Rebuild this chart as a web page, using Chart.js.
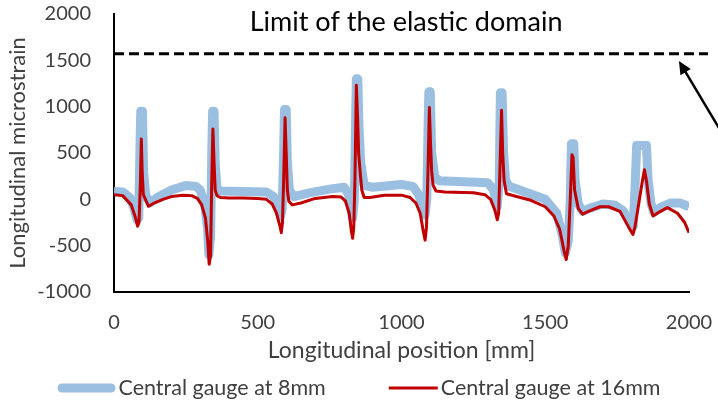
<!DOCTYPE html>
<html>
<head>
<meta charset="utf-8">
<script src="https://cdn.jsdelivr.net/npm/chart.js@4.4.1/dist/chart.umd.min.js"></script>
<style>
  html, body { margin: 0; padding: 0; background: #fff; }
  #wrap { width: 718px; height: 416px; position: relative; }
</style>
</head>
<body>
<div id="wrap"><canvas id="strainChart"></canvas></div>
<script>
const FONT = "Lato";

/* ===== DATA ===== */
// Central gauge at 8mm (position in mm, microstrain)
const pos8 = [0, 30, 55, 70, 80, 86, 90, 93, 99, 103, 110, 125, 150, 200, 250, 285, 300, 315, 325, 330,
  336, 340, 343, 348, 352, 358, 370, 450, 530, 555, 570, 580, 585, 590, 593, 599, 603, 610, 625, 680,
  750, 800, 815, 825, 830, 836, 840, 843, 848, 852, 858, 870, 900, 1000, 1040, 1060, 1075, 1082, 1088, 1092,
  1095, 1100, 1105, 1115, 1130, 1300, 1320, 1333, 1340, 1344, 1350, 1355, 1362, 1375, 1420, 1500, 1540, 1560, 1570, 1580,
  1587, 1591, 1599, 1604, 1615, 1630, 1660, 1700, 1740, 1770, 1795, 1806, 1812, 1818, 1852, 1858, 1868, 1878, 1900, 1935,
  1970, 2000];
const strain8 = [85, 80, 20, -100, -220, -200, 500, 950, 950, 300, 50, -40, 20, 100, 150, 140, 100, -50, -300, -600,
  -400, 500, 950, 950, 400, 120, 90, 85, 80, 30, -80, -180, -100, 500, 970, 970, 400, 100, 30, 70,
  110, 130, 60, -120, -200, 0, 800, 1300, 1300, 800, 400, 150, 130, 160, 140, 50, -100, -170, 0, 700,
  1160, 1160, 500, 250, 200, 180, 100, -80, 200, 1150, 1150, 500, 200, 140, 90, 0, -150, -400, -580, -450,
  0, 600, 600, 200, -50, -130, -90, -50, -60, -120, -250, -290, 100, 580, 580, 200, -50, -140, -90, -40,
  -40, -80];

// Central gauge at 16mm
const pos16 = [0, 30, 60, 75, 82, 87, 92, 95, 98, 102, 120, 140, 170, 200, 240, 270, 290, 305, 318, 326,
  331, 336, 340, 344, 348, 352, 358, 370, 400, 450, 500, 530, 550, 565, 578, 582, 586, 590, 595, 599,
  603, 608, 620, 650, 700, 760, 790, 805, 818, 826, 830, 834, 838, 843, 847, 851, 856, 862, 870, 890,
  940, 1000, 1030, 1050, 1065, 1076, 1082, 1087, 1092, 1097, 1101, 1105, 1110, 1120, 1150, 1250, 1290, 1310, 1325, 1333,
  1338, 1343, 1348, 1352, 1357, 1365, 1400, 1450, 1500, 1530, 1550, 1565, 1573, 1580, 1587, 1593, 1597, 1602, 1615, 1630,
  1650, 1690, 1720, 1760, 1790, 1805, 1812, 1825, 1838, 1845, 1852, 1862, 1875, 1895, 1925, 1960, 1985, 2000];
const strain16 = [50, 40, -60, -200, -290, -250, 200, 650, 300, 50, -75, -40, 0, 30, 45, 40, 10, -60, -200, -450,
  -700, -600, 200, 760, 400, 100, 40, 20, 15, 15, 10, 0, -50, -150, -300, -360, -250, 200, 880, 500,
  100, -20, -60, -40, 10, 30, 25, -20, -150, -350, -420, -300, 200, 1230, 900, 500, 300, 100, 20, 20,
  45, 45, 20, -40, -150, -350, -440, -300, 300, 990, 600, 300, 150, 90, 80, 70, 50, 0, -120, -220,
  -150, 400, 960, 500, 200, 60, 30, -10, -80, -180, -320, -550, -650, -500, 0, 480, 450, 100, -100, -160,
  -130, -80, -80, -130, -300, -380, -300, -50, 200, 320, 200, -50, -180, -140, -90, -150, -250, -360];

// Limit of the elastic domain (dashed line)
const limitPos = [0, 2066];
const limitStrain = [1570, 1570];

// Annotation arrow (tail -> tip), in data units
const arrowPos = [2104, 1965];
const arrowStrain = [771, 1494];

const xTicks = [0, 500, 1000, 1500, 2000];
const yTicks = [-1000, -500, 0, 500, 1000, 1500, 2000];

function toPoints(xs, ys) {
    return xs.map((x, i) => ({ x: x, y: ys[i] }));
}

/* ===== EXTRA DRAWING: label, arrow, legend ===== */
const extras = {
    id: "extras",
    afterDatasetsDraw(chart) {
        const ctx = chart.ctx;
        const xs = chart.scales.x, ys = chart.scales.y;

        // label above the dashed line
        ctx.save();
        ctx.font = "27px " + FONT;
        ctx.fillStyle = "#000";
        ctx.textAlign = "center";
        ctx.textBaseline = "middle";
        ctx.fillText("Limit of the elastic domain", xs.getPixelForValue(1016), ys.getPixelForValue(1910));

        // arrow
        const x1 = xs.getPixelForValue(arrowPos[0]), y1 = ys.getPixelForValue(arrowStrain[0]);
        const x2 = xs.getPixelForValue(arrowPos[1]), y2 = ys.getPixelForValue(arrowStrain[1]);
        const a = Math.atan2(y2 - y1, x2 - x1);
        const headLen = 13, headW = 6;
        ctx.strokeStyle = "#000";
        ctx.fillStyle = "#000";
        ctx.lineWidth = 2.5;
        ctx.beginPath();
        ctx.moveTo(x1, y1);
        ctx.lineTo(x2 - Math.cos(a) * headLen * 0.8, y2 - Math.sin(a) * headLen * 0.8);
        ctx.stroke();
        ctx.beginPath();
        ctx.moveTo(x2, y2);
        ctx.lineTo(x2 - Math.cos(a) * headLen - Math.sin(a) * headW, y2 - Math.sin(a) * headLen + Math.cos(a) * headW);
        ctx.lineTo(x2 - Math.cos(a) * headLen + Math.sin(a) * headW, y2 - Math.sin(a) * headLen - Math.cos(a) * headW);
        ctx.closePath();
        ctx.fill();
        ctx.restore();
    },
    afterDraw(chart) {
        // legend, Excel style: line sample + text
        const ctx = chart.ctx;
        const items = chart.data.datasets.filter(d => d.inLegend)
            .sort((p, q) => p.legendIndex - q.legendIndex);
        const sample = 49, itemGap = 63, y = 388;
        ctx.save();
        ctx.font = "21.5px " + FONT;
        ctx.textBaseline = "middle";
        const cap = d => d.borderWidth > 5 ? d.borderWidth / 2 : 0;
        let total = 0;
        items.forEach((d, i) => {
            total += 2 * cap(d) + sample + 3 + ctx.measureText(d.label).width + (i ? itemGap : 0);
        });
        let x = chart.width / 2 - total / 2;
        items.forEach(d => {
            x += cap(d);
            ctx.strokeStyle = d.borderColor;
            ctx.lineWidth = d.borderWidth;
            ctx.lineCap = cap(d) ? "round" : "butt";
            ctx.beginPath();
            ctx.moveTo(x, y);
            ctx.lineTo(x + sample, y);
            ctx.stroke();
            x += sample + cap(d) + 3;
            ctx.fillStyle = "#404040";
            ctx.fillText(d.label, x, y);
            x += ctx.measureText(d.label).width + itemGap;
        });
        ctx.restore();
    }
};

/* ===== CHART ===== */
new Chart(document.getElementById("strainChart"), {
    type: "line",
    data: {
        datasets: [
            {
                label: "Central gauge at 16mm",
                data: toPoints(pos16, strain16),
                borderColor: "#C00000",
                borderWidth: 3,
                pointRadius: 0,
                tension: 0,
                borderJoinStyle: "round",
                order: 0,
                inLegend: true,
                legendIndex: 1
            },
            {
                label: "Central gauge at 8mm",
                data: toPoints(pos8, strain8),
                borderColor: "#9BBFE0",
                borderWidth: 9,
                pointRadius: 0,
                tension: 0,
                borderJoinStyle: "round",
                order: 1,
                inLegend: true,
                legendIndex: 0
            },
            {
                label: "Limit",
                data: toPoints(limitPos, limitStrain),
                borderColor: "#000",
                borderWidth: 3,
                borderDash: [10, 5],
                pointRadius: 0,
                clip: false,
                order: 2,
                inLegend: false
            }
        ]
    },
    options: {
        responsive: true,
        maintainAspectRatio: false,
        animation: false,
        layout: { padding: { left: 0, top: 14, right: 29, bottom: 0 } },
        plugins: {
            legend: { display: false },
            tooltip: { enabled: false }
        },
        scales: {
            x: {
                type: "linear",
                min: xTicks[0],
                max: xTicks[xTicks.length - 1],
                ticks: {
                    stepSize: xTicks[1] - xTicks[0],
                    padding: 19,
                    color: "#404040",
                    font: { family: FONT, size: 20 },
                    callback: v => String(v)
                },
                grid: { display: false, drawTicks: false },
                border: { display: true, color: "#000", width: 2 },
                title: {
                    display: true,
                    text: "Longitudinal position [mm]",
                    color: "#404040",
                    font: { family: FONT, size: 23 },
                    padding: { top: 4, bottom: 52 }
                },
                afterFit(scale) {
                    scale.height = 124;
                    scale.paddingLeft = 0;
                    scale.paddingRight = 0;
                }
            },
            y: {
                min: yTicks[0],
                max: yTicks[yTicks.length - 1],
                ticks: {
                    stepSize: yTicks[1] - yTicks[0],
                    padding: 23,
                    color: "#404040",
                    font: { family: FONT, size: 20 },
                    callback: v => String(v)
                },
                grid: { display: false, drawTicks: false },
                border: { display: true, color: "#000", width: 2 },
                title: {
                    display: true,
                    text: "Longitudinal microstrain",
                    color: "#404040",
                    font: { family: FONT, size: 22 },
                    padding: { top: 5, bottom: 0 }
                },
                afterFit(scale) {
                    scale.width = 114;
                    scale.paddingTop = 0;
                    scale.paddingBottom = 0;
                }
            }
        }
    },
    plugins: [extras]
});
</script>
</body>
</html>
